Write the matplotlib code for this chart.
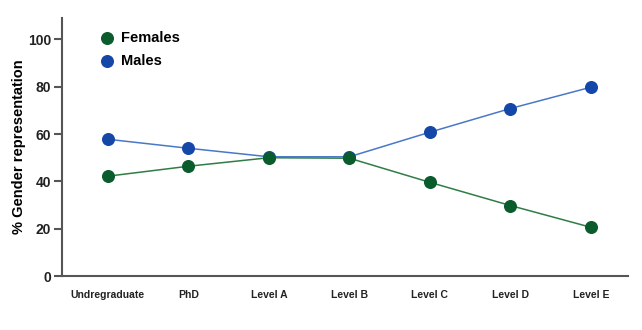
import matplotlib.pyplot as plt

plt.rcParams['font.family'] = ['Liberation Sans', 'DejaVu Sans']
plt.rcParams['font.weight'] = 'bold'

levels = ["Undregraduate", "PhD", "Level A", "Level B", "Level C", "Level D", "Level E"]
females = [42.2, 46.4, 50.0, 49.8, 39.6, 29.8, 20.6]
males = [57.8, 54.0, 50.4, 50.4, 60.8, 70.8, 79.8]
yticks = [0, 20, 40, 60, 80, 100]

green_line = "#2f7d45"
green_dot = "#0a5c2c"
blue_line = "#4a78c8"
blue_dot = "#1547a8"
axis_col = "#555555"

fig = plt.figure(figsize=(6.42, 3.30), dpi=100)
ax = fig.add_axes([0.0966, 0.1636, 0.8814, 0.7814])

x = list(range(len(levels)))
ax.plot(x, females, color=green_line, lw=1.1, zorder=2)
ax.plot(x, males, color=blue_line, lw=1.1, zorder=2)
ax.scatter(x, males, s=70, color=blue_dot, zorder=3, label="Males")
ax.scatter(x, females, s=70, color=green_dot, zorder=4, label="Females")

ax.set_xlim(-0.57, 6.46)
ax.set_ylim(0, 109)
ax.set_xticks(x)
ax.set_xticklabels(levels, fontsize=7.5, fontweight='bold', color="#222222")
ax.set_yticks(yticks)
ax.set_yticklabels([str(v) for v in yticks], fontsize=10, fontweight='bold', color="#222222")
ax.tick_params(axis='x', length=0, pad=10)
ax.tick_params(axis='y', length=6, width=1.5, color=axis_col, pad=2)

for s in ["top", "right"]:
    ax.spines[s].set_visible(False)
for s in ["left", "bottom"]:
    ax.spines[s].set_color(axis_col)
    ax.spines[s].set_linewidth(1.5)

ax.set_ylabel("% Gender representation", fontsize=10.5, fontweight='bold', labelpad=1)

handles, labels = ax.get_legend_handles_labels()
ax.legend(handles[::-1], labels[::-1], loc="upper left", bbox_to_anchor=(0.035, 0.99),
          frameon=False, handletextpad=0.0, labelspacing=0.62,
          borderaxespad=0.3, prop={'weight': 'bold', 'size': 10.5})

fig.savefig("out.png", dpi=100)
